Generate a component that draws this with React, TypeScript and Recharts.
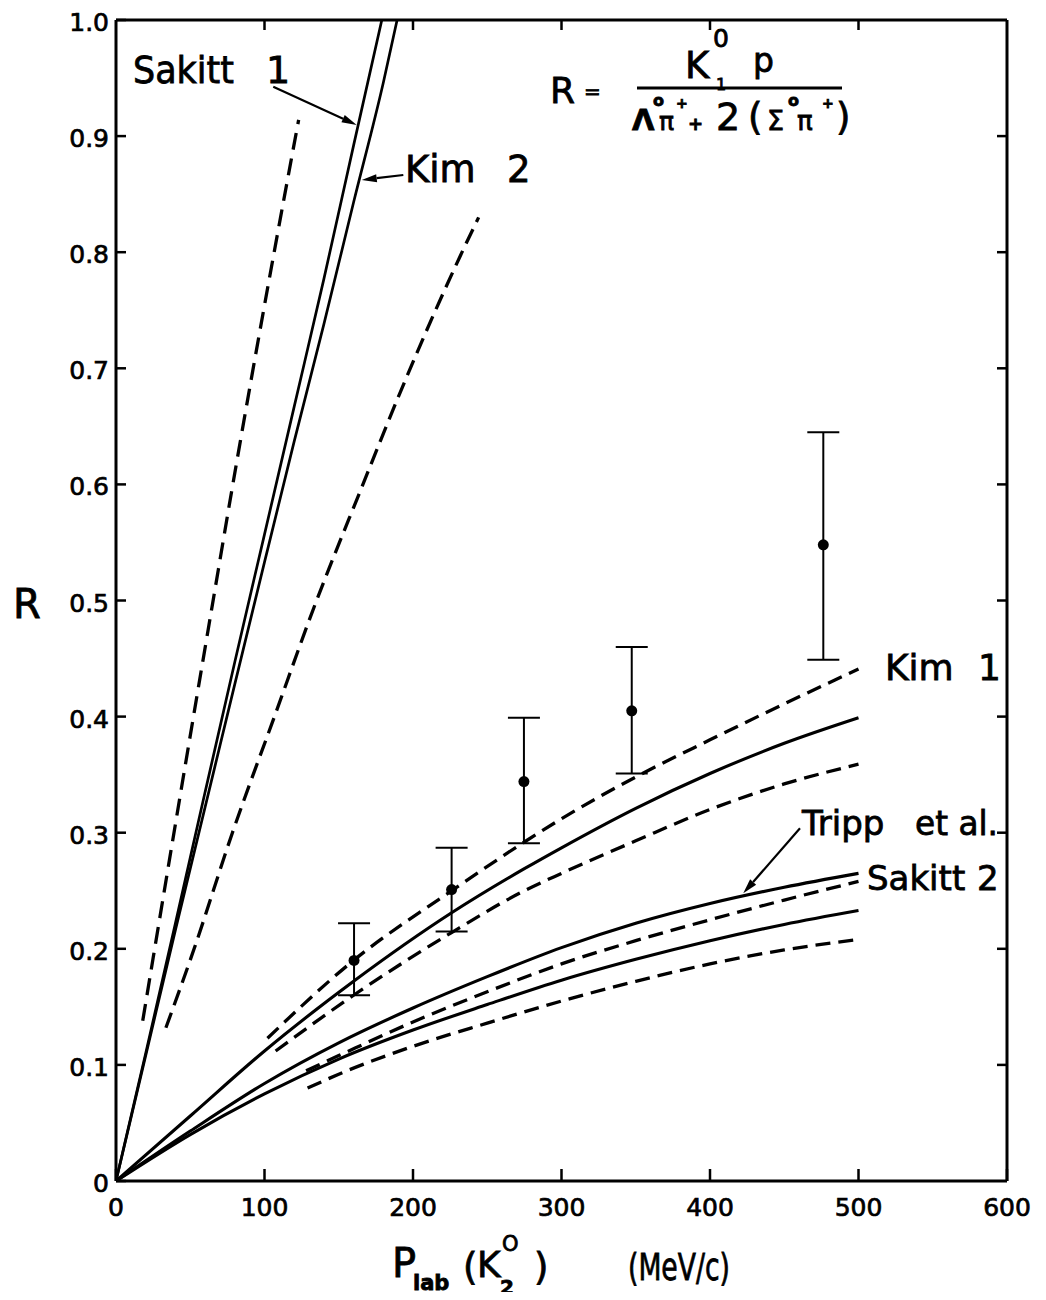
import React from 'react';
import { ComposedChart, Line, Scatter, XAxis, YAxis, ErrorBar, ReferenceLine } from 'recharts';

const FONT = '"DejaVu Sans", sans-serif';

const xTicks = [0, 100, 200, 300, 400, 500, 600];
const xTickLabels = ['0', '100', '200', '300', '400', '500', '600'];
const yTicks = [0, 0.1, 0.2, 0.3, 0.4, 0.5, 0.6, 0.7, 0.8, 0.9, 1.0];
const yTickLabels = ['0', '0.1', '0.2', '0.3', '0.4', '0.5', '0.6', '0.7', '0.8', '0.9', '1.0'];

// steep curves
const sakitt1Curve = [
  { x: 0, y: 0 }, { x: 20, y: 0.11 }, { x: 40, y: 0.222 }, { x: 60, y: 0.335 }, { x: 80, y: 0.447 },
  { x: 100, y: 0.557 }, { x: 120, y: 0.667 }, { x: 140, y: 0.777 }, { x: 160, y: 0.892 }, { x: 179, y: 1.0 },
];
const kim2Curve = [
  { x: 0, y: 0 }, { x: 20, y: 0.108 }, { x: 40, y: 0.216 }, { x: 60, y: 0.322 }, { x: 80, y: 0.428 },
  { x: 100, y: 0.533 }, { x: 120, y: 0.637 }, { x: 140, y: 0.738 }, { x: 160, y: 0.843 }, { x: 180, y: 0.946 },
  { x: 189.3, y: 1.0 },
];
const steepDashLeft = [
  { x: 18, y: 0.138 }, { x: 25, y: 0.192 }, { x: 38, y: 0.292 }, { x: 51.5, y: 0.395 }, { x: 65, y: 0.497 },
  { x: 78, y: 0.595 }, { x: 91, y: 0.69 }, { x: 106.5, y: 0.8 }, { x: 123, y: 0.914 },
];
const steepDashRight = [
  { x: 33.6, y: 0.132 }, { x: 52.6, y: 0.2 }, { x: 78.4, y: 0.3 }, { x: 106.4, y: 0.399 }, { x: 133.3, y: 0.494 },
  { x: 164.7, y: 0.595 }, { x: 194.9, y: 0.69 }, { x: 231.9, y: 0.797 }, { x: 244.2, y: 0.83 },
];

// Kim 1 group
const kim1Curve = [
  { x: 0, y: 0 }, { x: 50, y: 0.056 }, { x: 100, y: 0.112 }, { x: 160, y: 0.172 }, { x: 226, y: 0.231 },
  { x: 275, y: 0.269 }, { x: 300, y: 0.287 }, { x: 350, y: 0.321 }, { x: 400, y: 0.351 }, { x: 450, y: 0.377 },
  { x: 500, y: 0.399 },
];
const kim1Upper = [
  { x: 102, y: 0.123 }, { x: 160, y: 0.19 }, { x: 226, y: 0.25 }, { x: 275, y: 0.292 }, { x: 300, y: 0.312 },
  { x: 350, y: 0.348 }, { x: 400, y: 0.38 }, { x: 450, y: 0.411 }, { x: 500, y: 0.441 },
];
const kim1Lower = [
  { x: 107.5, y: 0.112 }, { x: 160, y: 0.16 }, { x: 226, y: 0.214 }, { x: 275, y: 0.25 }, { x: 300, y: 0.265 },
  { x: 350, y: 0.293 }, { x: 400, y: 0.32 }, { x: 450, y: 0.342 }, { x: 500, y: 0.359 },
];

// Tripp et al. / Sakitt 2 group
const trippCurve = [
  { x: 0, y: 0 }, { x: 50, y: 0.043 }, { x: 100, y: 0.084 }, { x: 150, y: 0.119 }, { x: 200, y: 0.149 },
  { x: 250, y: 0.176 }, { x: 300, y: 0.201 }, { x: 350, y: 0.222 }, { x: 400, y: 0.239 }, { x: 450, y: 0.253 },
  { x: 500, y: 0.265 },
];
const trippDash = [
  { x: 128, y: 0.095 }, { x: 150, y: 0.108 }, { x: 200, y: 0.137 }, { x: 250, y: 0.163 }, { x: 300, y: 0.187 },
  { x: 350, y: 0.207 }, { x: 400, y: 0.225 }, { x: 450, y: 0.242 }, { x: 500, y: 0.258 },
];
const sakitt2Curve = [
  { x: 0, y: 0 }, { x: 50, y: 0.04 }, { x: 100, y: 0.075 }, { x: 150, y: 0.105 }, { x: 200, y: 0.13 },
  { x: 250, y: 0.152 }, { x: 300, y: 0.173 }, { x: 350, y: 0.191 }, { x: 400, y: 0.207 }, { x: 450, y: 0.221 },
  { x: 500, y: 0.233 },
];
const sakitt2Dash = [
  { x: 129, y: 0.08 }, { x: 150, y: 0.092 }, { x: 200, y: 0.116 }, { x: 250, y: 0.136 }, { x: 300, y: 0.155 },
  { x: 350, y: 0.172 }, { x: 400, y: 0.187 }, { x: 450, y: 0.199 }, { x: 500, y: 0.208 },
];

// measured points with asymmetric errors [below, above]
const measured = [
  { x: 160.3, y: 0.19, err: [0.03, 0.032] },
  { x: 226, y: 0.251, err: [0.036, 0.036] },
  { x: 274.7, y: 0.344, err: [0.053, 0.055] },
  { x: 347.3, y: 0.405, err: [0.054, 0.055] },
  { x: 476.3, y: 0.548, err: [0.099, 0.097] },
];

const arrows = [
  { id: 'a-sakitt1', from: { x: 105.9, y: 0.9425 }, to: { x: 162.1, y: 0.9096 } },
  { id: 'a-kim2', from: { x: 193.5, y: 0.8665 }, to: { x: 165.5, y: 0.8622 } },
  { id: 'a-tripp', from: { x: 460.6, y: 0.3038 }, to: { x: 422.4, y: 0.2478 } },
];

const solidSeries = [
  { key: 'sakitt1', data: sakitt1Curve, w: 2.7 },
  { key: 'kim2', data: kim2Curve, w: 2.7 },
  { key: 'kim1', data: kim1Curve, w: 3.1 },
  { key: 'tripp', data: trippCurve, w: 3.1 },
  { key: 'sakitt2', data: sakitt2Curve, w: 3.1 },
];
const dashedSeries = [
  { key: 'dl', data: steepDashLeft, dash: '17 9' },
  { key: 'dr', data: steepDashRight, dash: '16 8' },
  { key: 'k1u', data: kim1Upper, dash: '15 8' },
  { key: 'k1l', data: kim1Lower, dash: '15 8' },
  { key: 'td', data: trippDash, dash: '15 8' },
  { key: 's2d', data: sakitt2Dash, dash: '15 8' },
];

const tickText = { fontFamily: FONT, fontSize: 25, fill: '#000', stroke: '#000', strokeWidth: 0.7 } as const;

const LeftTick = (p: any) => {
  const { x, y, index } = p;
  return (
    <g>
      <line x1={x} y1={y} x2={x + 10} y2={y} stroke="#000" strokeWidth={2.5} />
      <text x={x - 7} y={y} dy="0.44em" textAnchor="end" {...tickText}>{yTickLabels[index]}</text>
    </g>
  );
};
const RightTick = (p: any) => {
  const { x, y } = p;
  return <line x1={x} y1={y} x2={x - 10} y2={y} stroke="#000" strokeWidth={2.5} />;
};
const BottomTick = (p: any) => {
  const { x, y, index } = p;
  return (
    <g>
      <line x1={x} y1={y} x2={x} y2={y - 12} stroke="#000" strokeWidth={2.5} />
      <text x={x} y={y + 35} textAnchor="middle" {...tickText}>{xTickLabels[index]}</text>
    </g>
  );
};
const TopTick = (p: any) => {
  const { x, y } = p;
  return <line x1={x} y1={y} x2={x} y2={y + 10} stroke="#000" strokeWidth={2.5} />;
};

const ArrowShape = (p: any) => {
  const { x1, y1, x2, y2 } = p;
  const ang = Math.atan2(y2 - y1, x2 - x1);
  const L = 15;
  const W = 4;
  const bx = x2 - L * Math.cos(ang);
  const by = y2 - L * Math.sin(ang);
  const ox = -Math.sin(ang) * W;
  const oy = Math.cos(ang) * W;
  return (
    <g>
      <line x1={x1} y1={y1} x2={bx} y2={by} stroke="#000" strokeWidth={2.2} />
      <polygon points={`${x2},${y2} ${bx + ox},${by + oy} ${bx - ox},${by - oy}`} fill="#000" />
    </g>
  );
};

const Dot = (p: any) => <circle cx={p.cx} cy={p.cy} r={5.5} fill="#000" />;

const lbl = { fontFamily: FONT, fill: '#000', stroke: '#000', strokeWidth: 0.8 } as const;

export default function App() {
  return (
    <div style={{ position: 'relative', width: 1030, height: 1284, background: '#fff', fontFamily: FONT }}>
      <ComposedChart width={1030} height={1284} margin={{ top: 2, right: 21, bottom: 71, left: 48 }}>
        <XAxis
          xAxisId="b" dataKey="x" type="number" domain={[0, 600]} ticks={xTicks} interval={0}
          orientation="bottom" height={40} tickSize={0} tickMargin={0} tickLine={false}
          axisLine={{ stroke: '#000', strokeWidth: 3 }} tick={BottomTick} allowDataOverflow
        />
        <XAxis
          xAxisId="t" dataKey="x" type="number" domain={[0, 600]} ticks={xTicks.slice(1, 6)} interval={0}
          orientation="top" height={10} tickSize={0} tickMargin={0} tickLine={false}
          axisLine={{ stroke: '#000', strokeWidth: 3 }} tick={TopTick} allowDataOverflow
        />
        <YAxis
          yAxisId="l" dataKey="y" type="number" domain={[0, 1]} ticks={yTicks} interval={0}
          orientation="left" width={60} tickSize={0} tickMargin={0} tickLine={false}
          axisLine={{ stroke: '#000', strokeWidth: 3 }} tick={LeftTick} allowDataOverflow
        />
        <YAxis
          yAxisId="r" dataKey="y" type="number" domain={[0, 1]} ticks={yTicks.slice(1, 10)} interval={0}
          orientation="right" width={10} tickSize={0} tickMargin={0} tickLine={false}
          axisLine={{ stroke: '#000', strokeWidth: 3 }} tick={RightTick} allowDataOverflow
        />
        <Line xAxisId="t" yAxisId="r" data={[{ x: 0, y: 0 }, { x: 600, y: 1 }]} dataKey="y" stroke="none"
          dot={false} activeDot={false} isAnimationActive={false} legendType="none" />
        {solidSeries.map((s) => (
          <Line key={s.key} xAxisId="b" yAxisId="l" data={s.data} dataKey="y" type="monotone"
            stroke="#000" strokeWidth={s.w} dot={false} activeDot={false} isAnimationActive={false} />
        ))}
        {dashedSeries.map((s) => (
          <Line key={s.key} xAxisId="b" yAxisId="l" data={s.data} dataKey="y" type="monotone"
            stroke="#000" strokeWidth={3.3} strokeDasharray={s.dash} dot={false} activeDot={false}
            isAnimationActive={false} />
        ))}
        <Scatter xAxisId="b" yAxisId="l" data={measured} dataKey="y" shape={Dot} isAnimationActive={false}>
          <ErrorBar dataKey="err" direction="y" width={16} stroke="#000" strokeWidth={2} isAnimationActive={false} />
        </Scatter>
        {arrows.map((a) => (
          <ReferenceLine key={a.id} xAxisId="b" yAxisId="l" segment={[a.from, a.to]} shape={ArrowShape}
            ifOverflow="visible" />
        ))}
      </ComposedChart>

      <svg width={1030} height={1292} style={{ position: 'absolute', left: 0, top: 0, pointerEvents: 'none', overflow: 'visible' }}>
        {/* curve labels */}
        <text x={125} y={75} fontSize={38} textLength={101} lengthAdjust="spacingAndGlyphs" {...lbl}>Sakitt</text>
        <text x={258} y={75} fontSize={38} {...lbl}>1</text>
        <text x={397} y={174} fontSize={37} {...lbl}>Kim</text>
        <text x={499} y={174} fontSize={37} {...lbl}>2</text>
        <text x={877} y={672} fontSize={36} {...lbl}>Kim</text>
        <text x={970} y={672} fontSize={36} {...lbl}>1</text>
        <text x={794} y={827} fontSize={34} {...lbl}>Tripp</text>
        <text x={907} y={827} fontSize={34} textLength={83} lengthAdjust="spacingAndGlyphs" {...lbl}>et al.</text>
        <text x={859} y={882} fontSize={34} {...lbl}>Sakitt</text>
        <text x={969} y={882} fontSize={34} {...lbl}>2</text>

        {/* formula */}
        <text x={542} y={95} fontSize={36} {...lbl}>R</text>
        <text x={576} y={90} fontSize={20} {...lbl}>=</text>
        <text x={677} y={70} fontSize={37} {...lbl}>K</text>
        <text x={705} y={39} fontSize={25} {...lbl}>0</text>
        <text x={708} y={82} fontSize={16} {...lbl}>1</text>
        <text x={745} y={64} fontSize={33} {...lbl}>p</text>
        <line x1={629} y1={80} x2={834} y2={80} stroke="#000" strokeWidth={3} />
        <text x={624} y={122} fontSize={29} fontWeight="bold" {...lbl}>Λ</text>
        <text x={645} y={98} fontSize={16} fontWeight="bold" {...lbl}>o</text>
        <text x={651} y={122} fontSize={25} {...lbl}>π</text>
        <text x={668} y={100} fontSize={14} fontWeight="bold" {...lbl}>+</text>
        <text x={680} y={122} fontSize={18} fontWeight="bold" {...lbl}>+</text>
        <text x={708} y={122} fontSize={38} {...lbl}>2</text>
        <text x={740} y={122} fontSize={37} {...lbl}>(</text>
        <text x={759} y={122} fontSize={27} {...lbl}>Σ</text>
        <text x={780} y={98} fontSize={16} fontWeight="bold" {...lbl}>o</text>
        <text x={789} y={122} fontSize={26} {...lbl}>π</text>
        <text x={814} y={100} fontSize={14} fontWeight="bold" {...lbl}>+</text>
        <text x={828} y={122} fontSize={37} {...lbl}>)</text>

        {/* axis titles */}
        <text x={5} y={610} fontSize={40} {...lbl}>R</text>
        <text x={384} y={1269} fontSize={40} {...lbl}>P</text>
        <text x={405} y={1282} fontSize={21} fontWeight="bold" {...lbl}>lab</text>
        <text x={455} y={1272} fontSize={37} {...lbl}>(</text>
        <text x={469} y={1269} fontSize={36} {...lbl}>K</text>
        <text x={494} y={1243} fontSize={21} {...lbl}>O</text>
        <text x={492} y={1286} fontSize={20} fontWeight="bold" {...lbl}>2</text>
        <text x={526} y={1272} fontSize={37} {...lbl}>)</text>
        <text x={620} y={1272} fontSize={38} textLength={102} lengthAdjust="spacingAndGlyphs" {...lbl}>(MeV/c)</text>
      </svg>
    </div>
  );
}
